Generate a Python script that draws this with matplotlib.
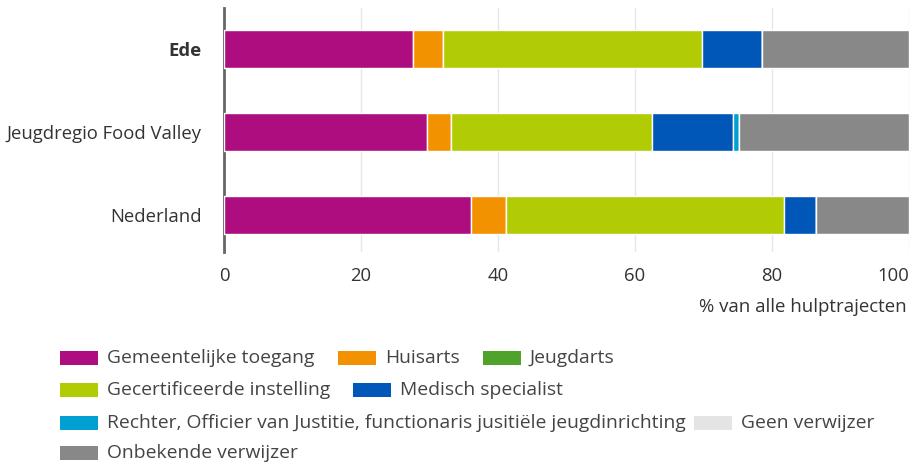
import matplotlib
matplotlib.use("Agg")
import matplotlib.pyplot as plt
from matplotlib.patches import Rectangle
import numpy as np

plt.rcParams['font.family'] = ['Open Sans', 'DejaVu Sans']

regions = ["Ede", "Jeugdregio Food Valley", "Nederland"]
series = ["Gemeentelijke toegang", "Huisarts", "Jeugdarts",
          "Gecertificeerde instelling", "Medisch specialist",
          "Rechter, Officier van Justitie, functionaris jusitiële jeugdinrichting",
          "Geen verwijzer", "Onbekende verwijzer"]
colors = ["#AD0D7E", "#F39200", "#4FA22A", "#B1CB04", "#0057B7", "#00A0D2", "#E4E4E4", "#888888"]

gemeentelijke = [27.6, 29.7, 36.1]
huisarts = [4.4, 3.4, 5.1]
jeugdarts = [0.0, 0.0, 0.0]
gecertificeerd = [37.8, 29.4, 40.6]
medisch = [8.7, 11.8, 4.6]
rechter = [0.0, 0.9, 0.0]
geen = [0.0, 0.0, 0.0]
onbekend = [21.5, 24.8, 13.6]
values = [gemeentelijke, huisarts, jeugdarts, gecertificeerd, medisch, rechter, geen, onbekend]
xticks = [0, 20, 40, 60, 80, 100]

W, H = 917, 468
fig = plt.figure(figsize=(W / 100, H / 100), dpi=100)
ax = fig.add_axes([224 / W, 1 - 252 / H, (909 - 224) / W, (252 - 8) / H])

y = np.arange(len(regions))
left = np.zeros(len(regions))
for vals, col in zip(values, colors):
    v = np.array(vals)
    ax.barh(y, v, left=left, height=0.46, color=col, edgecolor="white", linewidth=1.0, zorder=3)
    left += v

ax.set_xlim(0, 100)
ax.set_ylim(2.45, -0.5)
ax.set_xticks(xticks)
ax.xaxis.grid(True, color="#E6E6E6", linewidth=1, zorder=0)
ax.set_axisbelow(True)
ax.tick_params(axis='x', length=0, pad=11, labelsize=13.3, labelcolor="#333333")
ax.tick_params(axis='y', length=0, pad=16, labelsize=13.3, labelcolor="#333333")
ax.get_xticklabels()[-1].set_horizontalalignment("right")
ax.set_yticks(y)
ax.set_yticklabels(regions)
ax.get_yticklabels()[0].set_fontweight("bold")
for s in ["top", "right", "bottom"]:
    ax.spines[s].set_visible(False)
ax.spines["left"].set_color("#666666")
ax.spines["left"].set_linewidth(2)

fig.text(907 / W, 1 - 307 / H, "% van alle hulptrajecten", ha="right", va="center",
         fontsize=13.4, color="#333333")

# legend rows (layout)
rows = [[0, 1, 2], [3, 4], [5, 6], [7]]
row_y = [358, 390, 423, 453]
row_x = [[60, 338, 483], [60, 353], [60, 694], [60]]
hw, hh = 38, 14
for r, idxs in enumerate(rows):
    for k, i in enumerate(idxs):
        x0 = row_x[r][k]
        yc = row_y[r]
        fig.add_artist(Rectangle((x0 / W, 1 - (yc + hh / 2) / H), hw / W, hh / H,
                                 transform=fig.transFigure, facecolor=colors[i],
                                 edgecolor="none"))
        fig.text((x0 + 47) / W, 1 - yc / H, series[i], ha="left", va="center",
                 fontsize=13.9, color="#444444")

fig.savefig("out.png", dpi=100)
